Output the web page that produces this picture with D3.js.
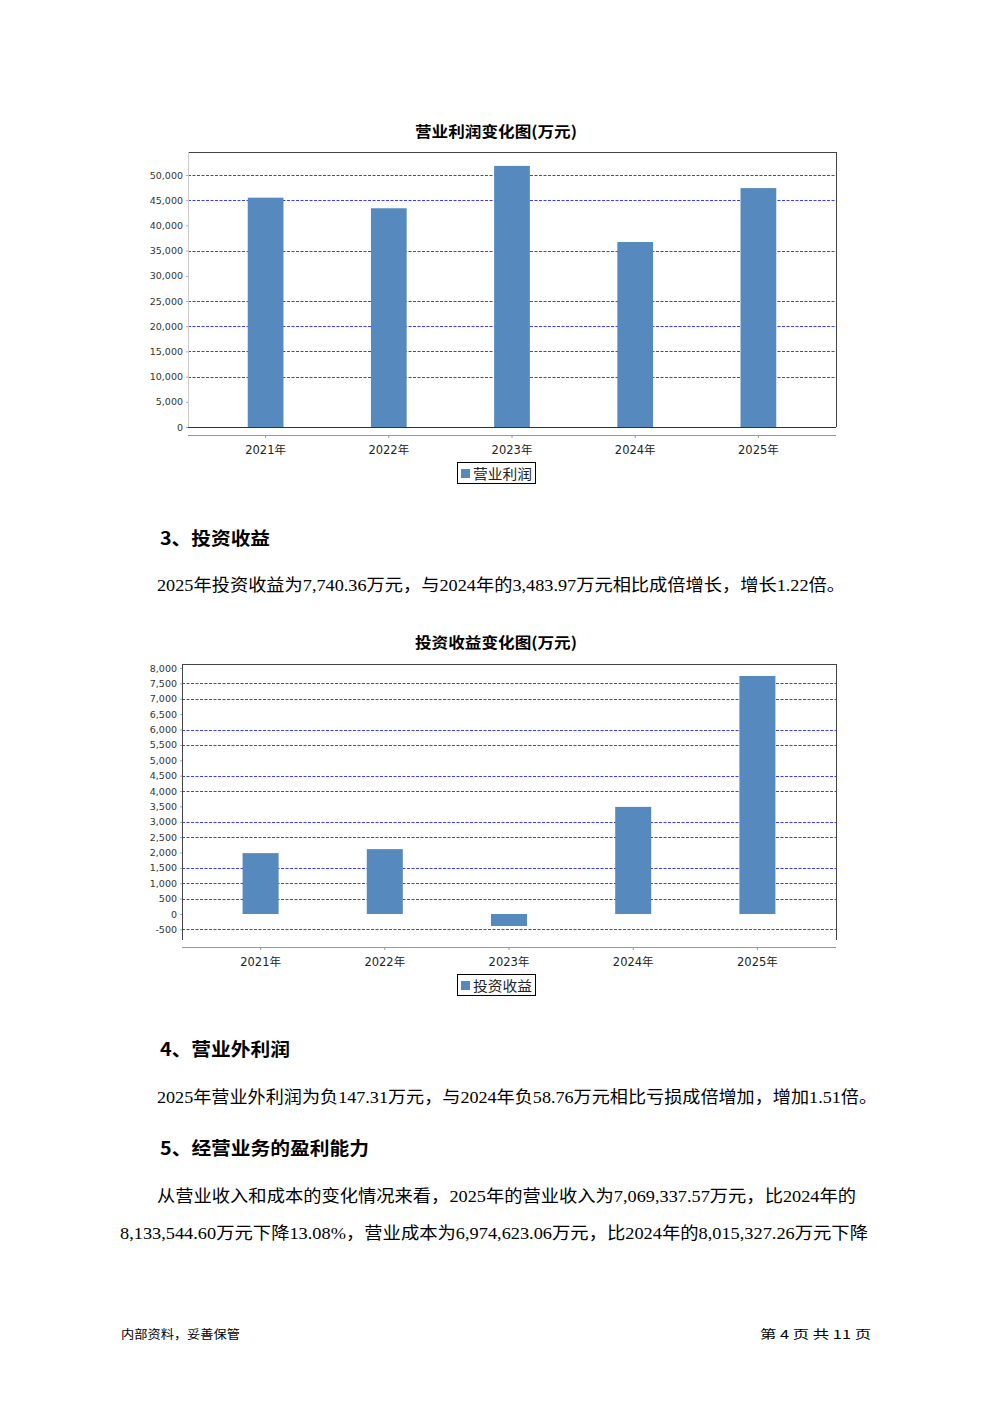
<!DOCTYPE html>
<html><head><meta charset="utf-8">
<script src="https://cdn.jsdelivr.net/npm/d3@7"></script>
<style>body{margin:0;background:#fff}svg{display:block}</style>
</head><body>
<script>
// ---- data ----
const years = ["2021年", "2022年", "2023年", "2024年", "2025年"];
const opProfit = [45500, 43400, 51800, 36700, 47400];
const invIncome = [1980, 2110, -390, 3483.97, 7740.36];
const ticks1 = [0, 5000, 10000, 15000, 20000, 25000, 30000, 35000, 40000, 45000, 50000];
const grid1 = [10000, 15000, 20000, 25000, 35000, 45000, 50000];
const ticks2 = [-500, 0, 500, 1000, 1500, 2000, 2500, 3000, 3500, 4000, 4500, 5000, 5500, 6000, 6500, 7000, 7500, 8000];
const grid2 = [-500, 500, 1000, 1500, 2500, 3000, 4000, 4500, 5500, 6000, 7000, 7500];
const title1 = "营业利润变化图(万元)";
const title2 = "投资收益变化图(万元)";
const legend1 = "营业利润";
const legend2 = "投资收益";

const BAR = "#5689bd";
const svg = d3.select("body").append("svg").attr("width", 992).attr("height", 1403);
const CJK = "'Noto Sans CJK SC','Noto Sans',sans-serif";
const BODY = "'Liberation Serif','Noto Sans CJK SC',serif";
const fmt = d => d3.format(",")(d).replace("\u2212", "-");

function chart(o) {
  const g = svg.append("g");
  const x = d3.scaleBand().domain(o.cats).range([o.left + o.catPad, o.right - o.catPad]).paddingInner(o.padIn).paddingOuter(o.padOut);
  const y = d3.scaleLinear().domain(o.domain).range([o.bottom, o.top]);
  // title
  g.append("text").attr("x", 496).attr("y", o.titleY).attr("text-anchor", "middle").attr("dominant-baseline", "central")
    .attr("font-family", CJK).attr("font-weight", "bold").attr("font-size", 15).attr("textLength", 162).attr("lengthAdjust", "spacingAndGlyphs").text(o.title);
  // gridlines
  g.selectAll(".grid").data(o.grid).join("line")
    .attr("x1", o.left).attr("x2", o.right).attr("y1", d => Math.round(y(d)) + 0.5).attr("y2", d => Math.round(y(d)) + 0.5)
    .attr("stroke", "#3c3cff").attr("stroke-width", 1).attr("stroke-dasharray", "3,1.5");
  // bars
  g.selectAll(".bar").data(o.values).join("rect")
    .attr("x", (d, i) => x(o.cats[i])).attr("width", x.bandwidth())
    .attr("y", d => y(Math.max(0, d))).attr("height", d => Math.abs(y(d) - y(0)))
    .attr("fill", BAR);
  // borders
  g.append("line").attr("x1", o.left).attr("x2", o.right).attr("y1", o.top + 0.5).attr("y2", o.top + 0.5).attr("stroke", "#444");
  g.append("line").attr("x1", o.right + 0.5).attr("x2", o.right + 0.5).attr("y1", o.top).attr("y2", o.bottom).attr("stroke", "#444");
  if (o.zeroLine) g.append("line").attr("x1", o.left).attr("x2", o.right).attr("y1", y(0) + 0.5).attr("y2", y(0) + 0.5).attr("stroke", "#333");
  // y axis
  const ya = g.append("g").attr("transform", `translate(${o.left},0)`)
    .call(d3.axisLeft(y).tickValues(o.ticks).tickSize(2).tickPadding(3).tickFormat(fmt));
  ya.select(".domain").attr("stroke", o.leftColor).attr("d", `M0.5,${o.top}V${o.bottom}`);
  ya.selectAll(".tick line").attr("stroke", "#aaa");
  ya.selectAll(".tick text").attr("font-family", "'DejaVu Sans',sans-serif").attr("font-size", 9.5).attr("fill", "#333");
  // x axis
  const xa = g.append("g").attr("transform", `translate(0,${o.xAxisY})`)
    .call(d3.axisBottom(x).tickSize(3).tickPadding(8));
  xa.select(".domain").attr("stroke", "#999").attr("d", `M${o.left},0.5H${o.right}`);
  xa.selectAll(".tick line").attr("stroke", "#999");
  xa.selectAll(".tick text").attr("font-family", "'DejaVu Sans','Noto Sans CJK SC',sans-serif").attr("font-size", 11.5).attr("fill", "#222");
  // legend
  const lg = g.append("g");
  lg.append("rect").attr("x", 457.5).attr("y", o.legendY + 0.5).attr("width", 78).attr("height", 21).attr("fill", "#fff").attr("stroke", "#000");
  lg.append("rect").attr("x", 461).attr("y", o.legendY + 7).attr("width", 9).attr("height", 9).attr("fill", BAR);
  lg.append("text").attr("x", 473).attr("y", o.legendY + 11).attr("dominant-baseline", "central").attr("font-family", CJK).attr("font-size", 14)
    .attr("textLength", 59).attr("lengthAdjust", "spacingAndGlyphs").attr("fill", "#222").text(o.legend);
}

chart({cats: years, values: opProfit, domain: [0, 54560], ticks: ticks1, grid: grid1,
  left: 188, right: 836, top: 152, bottom: 427, catPad: 16, padIn: 0.71, padOut: 0.355,
  xAxisY: 435, titleY: 130, legendY: 462, title: title1, legend: legend1, zeroLine: true, leftColor: "#ccc"});
chart({cats: years, values: invIncome, domain: [-845, 8130], ticks: ticks2, grid: grid2,
  left: 182, right: 836, top: 664, bottom: 940, catPad: 16.5, padIn: 0.71, padOut: 0.355,
  xAxisY: 947, titleY: 641, legendY: 974, title: title2, legend: legend2, zeroLine: false, leftColor: "#444"});

// ---- document text ----
function txt(x, y, s, size, w, bold, fam) {
  svg.append("text").attr("x", x).attr("y", y).attr("dominant-baseline", "central")
    .attr("font-family", fam || BODY).attr("font-size", size).attr("font-weight", bold ? "bold" : "normal")
    .attr("textLength", w).attr("lengthAdjust", "spacingAndGlyphs").attr("fill", "#000").text(s);
}
txt(160, 537, "3、投资收益", 18, 110, true, CJK);
txt(157, 585, "2025年投资收益为7,740.36万元，与2024年的3,483.97万元相比成倍增长，增长1.22倍。", 16.5, 688);
txt(160, 1048, "4、营业外利润", 18, 130, true, CJK);
txt(157, 1097, "2025年营业外利润为负147.31万元，与2024年负58.76万元相比亏损成倍增加，增加1.51倍。", 16.5, 720);
txt(160, 1147, "5、经营业务的盈利能力", 18, 209, true, CJK);
txt(157, 1196, "从营业收入和成本的变化情况来看，2025年的营业收入为7,069,337.57万元，比2024年的", 16.5, 699);
txt(120, 1233, "8,133,544.60万元下降13.08%，营业成本为6,974,623.06万元，比2024年的8,015,327.26万元下降", 16.5, 748);
txt(121, 1333, "内部资料，妥善保管", 12, 119, false, CJK);
txt(760, 1333, "第 4 页  共 11 页", 12, 111, false, CJK);
</script>
</body></html>
